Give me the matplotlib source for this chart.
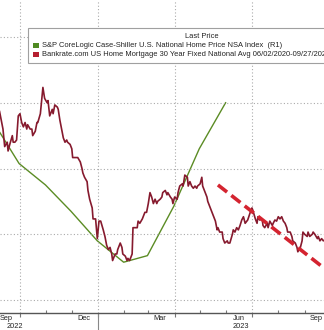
import pandas as pd
import matplotlib
matplotlib.use("Agg")
import matplotlib.pyplot as plt
import matplotlib.dates as mdates
from matplotlib.patches import Rectangle
from matplotlib.transforms import blended_transform_factory

plt.rcParams['font.family'] = ['Liberation Sans', 'DejaVu Sans']

# S&P CoreLogic Case-Shiller national index (NSA), month-end prints, right axis
hpi_dates = ['2022-08-31', '2022-09-30', '2022-10-31', '2022-11-30', '2022-12-31',
             '2023-01-31', '2023-02-28', '2023-03-31', '2023-04-30', '2023-05-31']
hpi_values = [302.8, 300.3, 299.0, 297.4, 295.6, 294.3, 294.7, 297.7, 301.2, 304.0]

# Bankrate 30Y fixed national average, left axis
rate_dates = [
    '2022-09-07', '2022-09-11', '2022-09-13', '2022-09-16', '2022-09-17', '2022-09-19',
    '2022-09-22', '2022-09-23', '2022-09-25', '2022-09-27', '2022-09-29',
    '2022-10-01', '2022-10-03', '2022-10-05', '2022-10-07', '2022-10-09', '2022-10-10',
    '2022-10-13', '2022-10-15', '2022-10-16', '2022-10-19', '2022-10-21', '2022-10-22',
    '2022-10-25', '2022-10-27', '2022-10-28', '2022-10-30',
    '2022-11-02', '2022-11-03', '2022-11-05', '2022-11-08', '2022-11-09', '2022-11-11',
    '2022-11-14', '2022-11-15', '2022-11-17', '2022-11-19', '2022-11-21', '2022-11-23',
    '2022-11-25', '2022-11-26', '2022-11-29',
    '2022-12-01', '2022-12-02', '2022-12-05', '2022-12-07', '2022-12-08', '2022-12-11',
    '2022-12-13', '2022-12-14', '2022-12-16', '2022-12-19', '2022-12-20', '2022-12-22',
    '2022-12-25', '2022-12-26', '2022-12-28', '2022-12-29', '2022-12-31',
    '2023-01-02', '2023-01-04', '2023-01-07', '2023-01-09', '2023-01-11', '2023-01-13',
    '2023-01-15', '2023-01-17', '2023-01-18', '2023-01-21', '2023-01-23', '2023-01-24',
    '2023-01-27', '2023-01-29', '2023-01-30',
    '2023-02-02', '2023-02-04', '2023-02-05', '2023-02-07', '2023-02-10', '2023-02-11',
    '2023-02-13', '2023-02-16', '2023-02-17', '2023-02-19', '2023-02-22', '2023-02-23',
    '2023-02-25', '2023-02-27',
    '2023-03-01', '2023-03-03', '2023-03-05', '2023-03-07', '2023-03-09', '2023-03-11',
    '2023-03-12', '2023-03-15', '2023-03-17', '2023-03-18', '2023-03-21', '2023-03-23',
    '2023-03-24', '2023-03-27', '2023-03-29', '2023-03-30',
    '2023-04-01', '2023-04-04', '2023-04-05', '2023-04-07', '2023-04-10', '2023-04-11',
    '2023-04-13', '2023-04-16', '2023-04-17', '2023-04-19', '2023-04-21', '2023-04-23',
    '2023-04-25', '2023-04-27', '2023-04-28',
    '2023-05-01', '2023-05-03', '2023-05-04', '2023-05-07', '2023-05-09', '2023-05-10',
    '2023-05-13', '2023-05-15', '2023-05-16', '2023-05-19', '2023-05-21', '2023-05-22',
    '2023-05-24', '2023-05-27', '2023-05-28', '2023-05-30',
    '2023-06-02', '2023-06-03', '2023-06-05', '2023-06-08', '2023-06-09', '2023-06-11',
    '2023-06-13', '2023-06-15', '2023-06-17', '2023-06-19', '2023-06-21', '2023-06-23',
    '2023-06-25', '2023-06-26', '2023-06-29',
    '2023-07-01', '2023-07-02', '2023-07-05', '2023-07-07', '2023-07-08', '2023-07-10',
    '2023-07-13', '2023-07-14', '2023-07-16', '2023-07-19', '2023-07-20', '2023-07-22',
    '2023-07-25', '2023-07-26', '2023-07-28', '2023-07-30',
    '2023-08-01', '2023-08-03', '2023-08-05', '2023-08-07', '2023-08-09', '2023-08-11',
    '2023-08-12', '2023-08-15', '2023-08-17', '2023-08-18', '2023-08-21', '2023-08-23',
    '2023-08-24', '2023-08-27', '2023-08-29', '2023-08-30',
    '2023-09-01', '2023-09-04', '2023-09-05', '2023-09-07', '2023-09-10', '2023-09-11',
    '2023-09-13', '2023-09-16', '2023-09-17', '2023-09-19', '2023-09-21', '2023-09-23',
    '2023-09-27',
]
rate_values = [
    7.06, 6.98, 6.90, 6.92, 6.88, 6.91, 6.95, 6.92, 6.92, 6.93, 7.04,
    7.05, 7.01, 6.99, 7.01, 6.98, 7.00, 6.98, 6.98, 6.95, 6.97, 7.01, 7.01,
    7.05, 7.13, 7.17, 7.12,
    7.10, 7.11, 7.04, 7.07, 7.05, 7.09, 7.08, 7.07, 7.02, 6.98, 6.94, 6.92,
    6.93, 6.92, 6.91,
    6.89, 6.85, 6.85, 6.85, 6.85, 6.83, 6.80, 6.78, 6.76, 6.74, 6.70, 6.66,
    6.62, 6.57, 6.57, 6.57, 6.48,
    6.56, 6.56, 6.52, 6.49, 6.45, 6.43, 6.44, 6.41, 6.38, 6.41, 6.41, 6.43,
    6.46, 6.44, 6.41,
    6.40, 6.38, 6.39, 6.38, 6.41, 6.53, 6.53, 6.53, 6.56, 6.55, 6.57, 6.58,
    6.60, 6.60,
    6.64, 6.69, 6.67, 6.64, 6.66, 6.64, 6.65, 6.66, 6.67, 6.69, 6.70, 6.68,
    6.69, 6.67, 6.66, 6.64,
    6.67, 6.66, 6.69, 6.72, 6.73, 6.72, 6.77, 6.76, 6.72, 6.74, 6.72, 6.71,
    6.72, 6.71, 6.72,
    6.73, 6.76, 6.72, 6.69, 6.67, 6.65, 6.62, 6.60, 6.59, 6.56, 6.52, 6.53,
    6.51, 6.51, 6.48, 6.46,
    6.47, 6.46, 6.46, 6.50, 6.52, 6.51, 6.53, 6.52, 6.54, 6.565, 6.58, 6.55,
    6.56, 6.565, 6.60,
    6.62, 6.61, 6.57, 6.55, 6.58, 6.565, 6.57, 6.54, 6.53, 6.55, 6.53, 6.56,
    6.54, 6.55, 6.565, 6.56,
    6.58, 6.57, 6.58, 6.56, 6.55, 6.53, 6.51, 6.51, 6.49, 6.47, 6.46, 6.44,
    6.42, 6.44, 6.47, 6.51,
    6.50, 6.49, 6.51, 6.49, 6.50, 6.51, 6.50, 6.48, 6.49, 6.47, 6.48, 6.47,
    6.48,
]

# downtrend drawn over the rate since late May
trend_dates = ['2023-05-22', '2023-09-24']
trend_values = [6.725, 6.345]

month_labels = ['Sep', 'Dec', 'Mar', 'Jun', 'Sep']
month_label_dates = ['2022-09-15', '2022-12-15', '2023-03-15', '2023-06-15', '2023-09-15']
year_labels = ['2022', '2023']
year_label_dates = ['2022-09-25', '2023-06-18']

legend_title = 'Last Price'
legend_items = [
    ('S&P CoreLogic Case-Shiller U.S. National Home Price NSA Index  (R1)', '#4f8a22'),
    ('Bankrate.com US Home Mortgage 30 Year Fixed National Avg 06/02/2020-09/27/2023', '#b51f30'),
]

W, H = 324, 330
fig = plt.figure(figsize=(W / 100, H / 100), dpi=100)
ax = fig.add_axes([0, 17 / H, 1, 313 / H])
ax2 = ax.twinx()

ax2.plot(pd.to_datetime(hpi_dates), hpi_values, color='#5b8c24', lw=1.0)
ax.plot(pd.to_datetime(rate_dates), rate_values, color='#861a2e', lw=1.2)
ax.plot(pd.to_datetime(trend_dates), trend_values, color='#d42430', lw=2.6,
        dashes=(3.2, 1.5), solid_capstyle='butt', dash_capstyle='butt')

# rate on top of the index line
ax.set_zorder(ax2.get_zorder() + 1)
ax.patch.set_visible(False)

ax.set_xlim(pd.Timestamp('2022-09-07 12:00'), pd.Timestamp('2023-09-23 19:00'))
ax.set_ylim(6.1407, 7.5689)
ax2.set_ylim(291.21, 310.25)

ax.set_yticks([6.2, 6.5, 6.8, 7.1, 7.4])
ax.tick_params(axis='y', which='both', length=0, labelleft=False)
ax2.set_yticks([])

ax.xaxis.set_major_locator(mdates.MonthLocator(bymonth=[1, 4, 7, 10]))
ax.xaxis.set_minor_locator(mdates.MonthLocator())
ax.tick_params(axis='x', which='major', direction='out', length=3, width=0.8,
               color='#777777', labelbottom=False)
ax.tick_params(axis='x', which='minor', direction='in', length=2, width=0.8,
               color='#777777')
ax.grid(True, which='major', color='#aaaaaa', lw=0.8, linestyle=(0, (1, 2)))

for a in (ax, ax2):
    for side in ('top', 'left', 'right'):
        a.spines[side].set_visible(False)
ax2.spines['bottom'].set_visible(False)
ax.spines['bottom'].set_color('#555555')
ax.spines['bottom'].set_linewidth(1.0)

# month and year labels under the axis
tr = blended_transform_factory(ax.transData, fig.transFigure)
for lab, d in zip(month_labels, month_label_dates):
    ax.text(pd.Timestamp(d), 1 - 318.5 / H, lab, transform=tr, ha='center', va='center',
            fontsize=5.3, color='#222222', clip_on=False)
for lab, d in zip(year_labels, year_label_dates):
    ax.text(pd.Timestamp(d), 1 - 327 / H, lab, transform=tr, ha='center', va='center',
            fontsize=5.3, color='#222222', clip_on=False)
ax.plot([pd.Timestamp('2023-01-01')] * 2, [0, 17 / H], transform=tr, color='#888888',
        lw=0.8, clip_on=False)

# legend box
fig.patches.append(Rectangle((28 / W, 1 - 63 / H), 320 / W, 35 / H, transform=fig.transFigure,
                             facecolor='white', edgecolor='#a0a0a0', lw=0.8, zorder=10))
fig.text(202 / W, 1 - 37 / H, legend_title, ha='center', va='center', fontsize=5.4,
         color='#222222', zorder=11)
for i, (lab, col) in enumerate(legend_items):
    yc = 45.5 + i * 9
    fig.patches.append(Rectangle((33 / W, 1 - (yc + 2.8) / H), 6 / W, 5.6 / H,
                                 transform=fig.transFigure, facecolor=col,
                                 edgecolor='none', zorder=11))
    fig.text(42 / W, 1 - yc / H, lab, ha='left', va='center', fontsize=5.4,
             color='#222222', zorder=11)

fig.savefig('out.png', dpi=100)
